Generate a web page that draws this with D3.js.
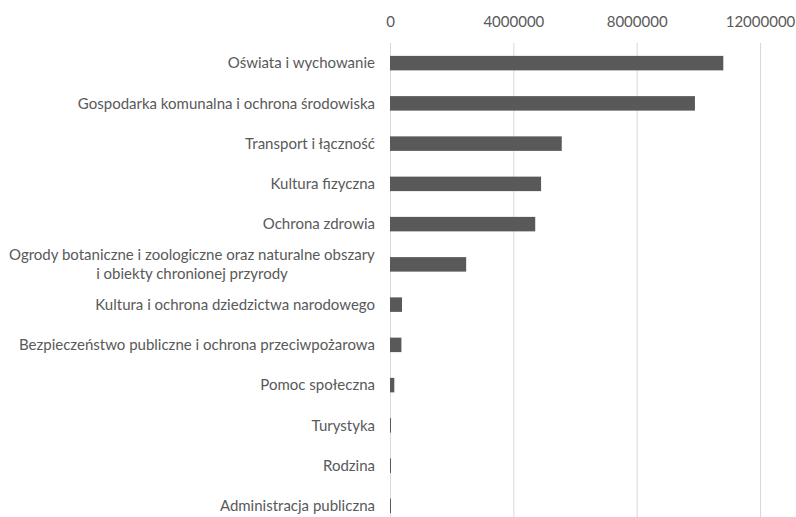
<!DOCTYPE html>
<html lang="pl">
<head>
<meta charset="UTF-8">
<title>Wydatki wg działów</title>
<script src="https://d3js.org/d3.v7.min.js"></script>
<style>
  body { margin: 0; background: #fff; }
  svg { display: block; }
</style>
</head>
<body>
<script>
    // categories, top to bottom
    var categories = [
        "Oświata i wychowanie",
        "Gospodarka komunalna i ochrona środowiska",
        "Transport i łączność",
        "Kultura fizyczna",
        "Ochrona zdrowia",
        "Ogrody botaniczne i zoologiczne oraz naturalne obszary|i obiekty chronionej przyrody",
        "Kultura i ochrona dziedzictwa narodowego",
        "Bezpieczeństwo publiczne i ochrona przeciwpożarowa",
        "Pomoc społeczna",
        "Turystyka",
        "Rodzina",
        "Administracja publiczna"
    ];
    var values = [10810000, 9890000, 5570000, 4900000, 4710000, 2470000,
                  390000, 370000, 140000, 30000, 20000, 20000];
    var tickValues = [0, 4000000, 8000000, 12000000];

    var width = 796, height = 517;
    var margin = {top: 43, right: 36, bottom: -9, left: 390};

    var svg = d3.select("body").append("svg")
        .attr("width", width)
        .attr("height", height)
        .style("font-family", "Lato, 'Open Sans', sans-serif");

    var x = d3.scaleLinear()
        .domain([0, 12000000])
        .range([margin.left, width - margin.right]);

    var y = d3.scaleBand()
        .domain(d3.range(categories.length))
        .range([margin.top, height - margin.bottom])
        .paddingInner(0.64)
        .paddingOuter(0.32);

    // gridlines
    svg.append("g")
        .selectAll("line")
        .data(tickValues)
        .join("line")
        .attr("x1", d => x(d) + 0.5)
        .attr("x2", d => x(d) + 0.5)
        .attr("y1", margin.top)
        .attr("y2", height)
        .attr("stroke", "#d9d9d9")
        .attr("stroke-width", 1);

    // top axis labels
    var axis = d3.axisTop(x).tickValues(tickValues).tickFormat(d3.format("d")).tickSize(0).tickPadding(0);
    var gAxis = svg.append("g")
        .attr("transform", "translate(0,22)")
        .call(axis);
    gAxis.select(".domain").remove();
    gAxis.selectAll("text")
        .attr("dy", "0.32em")
        .attr("fill", "#595959")
        .style("font-size", "15px")
        .style("font-family", "Lato, 'Open Sans', sans-serif");

    // bars
    svg.append("g")
        .selectAll("rect")
        .data(values)
        .join("rect")
        .attr("x", x(0))
        .attr("y", (d, i) => y(i))
        .attr("width", d => Math.max(1, x(d) - x(0)))
        .attr("height", y.bandwidth())
        .attr("fill", "#595959");

    // category labels
    var gLab = svg.append("g")
        .attr("fill", "#595959")
        .style("font-size", "15px");

    categories.forEach(function (c, i) {
        var lines = c.split("|");
        var cy = y(i) + y.bandwidth() / 2;
        var t = gLab.append("text")
            .attr("text-anchor", "middle");
        lines.forEach(function (l, k) {
            t.append("tspan")
                .attr("x", 0)
                .attr("y", cy + (k - (lines.length - 1) / 2) * 19)
                .attr("dy", "0.35em")
                .text(l);
        });
        var w = t.node().getBBox().width;
        t.selectAll("tspan").attr("x", 375 - w / 2);
    });
</script>
</body>
</html>
